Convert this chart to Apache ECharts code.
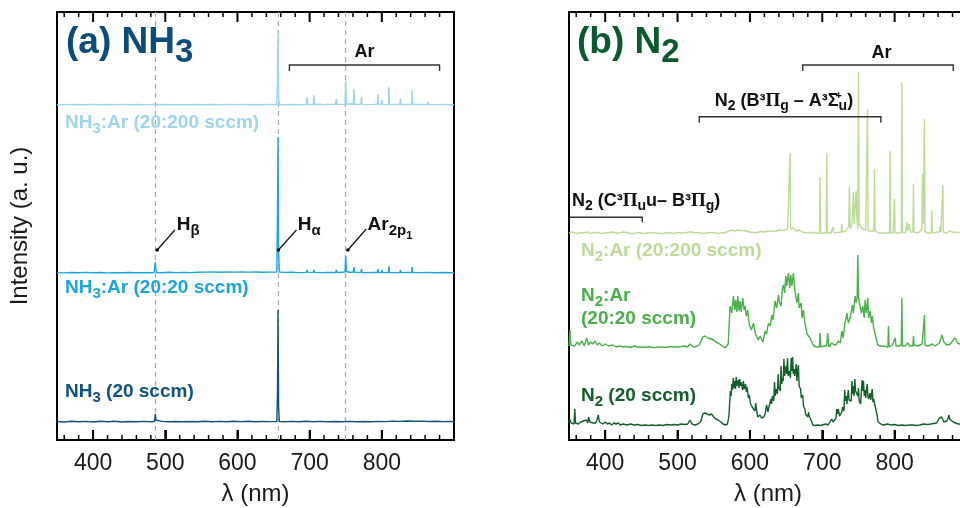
<!DOCTYPE html>
<html><head><meta charset="utf-8">
<script src="https://cdn.jsdelivr.net/npm/echarts@6/dist/echarts.min.js"></script>
<style>html,body{margin:0;padding:0;background:#fff}#c{width:960px;height:508px}</style>
</head><body><div id="c"></div>
<script>
// ---------- tick values ----------
const majorTicks = [400, 500, 600, 700, 800];
const minorTicks = [360,380,420,440,460,480,520,540,560,580,620,640,660,680,720,740,760,780,820,840,860,880];
const refLines = [486, 656, 750]; // H-beta, H-alpha, Ar 2p1

// ---------- (a) NH3 panel: [wavelength nm, intensity above baseline] ----------
const nh3Offset = 18, nh3Ar20Offset = 167, nh3Ar200Offset = 335;
const nh3Data = [[350,0.5],[360,0],[370,0.8],[380,0.2],[390,0.6],[400,0],[410,0.7],[420,0.3],[430,0.8],[440,0],[450,0.5],[460,0.2],[470,0.6],[480,0.3],[484.5,0.5],[485.5,3],[486.2,8],[487,2],[488,0.4],[495,0.6],[505,0.2],[515,0.5],[521,0.3],[522,2],[523,0.3],[535,0.5],[545,0.2],[555,0.7],[565,0.3],[575,0.6],[585,0.2],[595,0.8],[605,0.4],[615,0.7],[625,0.3],[635,0.6],[645,0.4],[654.5,0.5],[655.5,30],[656.2,112],[657,15],[658,0.6],[665,0.3],[675,0.6],[685,0.2],[695,0.7],[705,0.3],[715,0.6],[725,0.2],[735,0.5],[745,0.3],[755,0.6],[765,0.2],[775,0.5],[785,0.3],[795,0.6],[805,0.4],[815,0.9],[825,0.6],[835,1.0],[845,0.7],[855,0.9],[865,0.5],[875,0.7],[885,0.4],[895,0.6],[900,0.3]];
const nh3Ar20Data = [[350,0.4],[360,0.1],[370,0.5],[380,0.2],[390,0.6],[400,0.3],[410,0.5],[420,0.1],[430,0.4],[440,0.2],[450,0.5],[460,0.3],[470,0.4],[480,0.2],[484.5,0.5],[485.5,7],[486.2,11],[487,3],[488,0.5],[495,0.3],[505,0.8],[515,0.4],[525,0.6],[535,0.4],[545,0.7],[555,0.9],[565,1.0],[575,0.8],[585,1.0],[595,0.9],[605,1.1],[615,0.9],[625,1.0],[635,0.8],[645,0.9],[654.5,1],[655.5,60],[656.2,136],[657,20],[658,1],[665,0.6],[675,0.8],[685,0.4],[695.5,0.6],[696.5,3],[697.5,0.6],[705,0.6],[706,3],[707,0.6],[715,0.4],[725,0.6],[736,0.5],[737,3],[738,0.5],[749,1],[750,17],[751,1.5],[755,0.8],[760.5,0.8],[761.4,6],[762.3,0.8],[771,0.6],[771.8,4],[772.6,0.5],[780,0.4],[787,0.6],[793.8,0.5],[794.6,4],[795.4,0.5],[799.4,0.5],[800.2,3],[801,0.5],[805,0.4],[809,0.5],[809.8,7],[810.6,0.5],[817,0.4],[825,0.5],[825.8,3],[826.6,0.4],[834,0.5],[841.2,0.5],[842,6],[842.8,0.4],[851.4,0.4],[852.2,1.5],[853,0.4],[865,0.5],[875,0.3],[885,0.5],[895,0.2],[900,0.4]];
const nh3Ar200Data = [[350,0.3],[360,0.6],[370,0.2],[380,0.5],[390,0.3],[400,0.6],[410,0.2],[420,0.5],[430,0.3],[440,0.6],[450,0.3],[460,0.5],[470,0.2],[480,0.4],[486,1.0],[490,0.3],[500,0.5],[510,0.3],[521,0.4],[522,1.2],[523,0.4],[535,0.3],[545,0.5],[555,0.3],[565,0.5],[575,0.3],[585,0.6],[595,0.4],[605,0.5],[615,0.3],[625,0.5],[635,0.3],[645,0.5],[654.5,0.4],[655.5,30],[656.2,75],[657,8],[658,0.5],[665,0.3],[675,0.5],[685,0.3],[695.5,0.5],[696.5,8],[697.5,0.5],[705,0.4],[706,10],[707,0.5],[715,0.8],[720,0.4],[725,0.6],[725.8,2.5],[726.6,0.6],[736,0.8],[737,6],[738,0.6],[749,0.8],[750,24],[751,0.8],[755,1.2],[756,2],[757,0.8],[760.5,0.8],[761.4,16],[762.3,0.8],[766,0.6],[771,0.8],[771.8,8],[772.6,0.6],[780,0.4],[787,0.6],[793.8,0.8],[794.6,11],[795.4,0.8],[799.4,0.8],[800.2,5],[801,0.6],[805,0.4],[809,0.6],[809.8,18],[810.6,0.6],[817,0.5],[825,0.6],[825.8,7],[826.6,0.5],[834,0.5],[841.2,0.6],[842,15],[842.8,0.5],[851.4,0.5],[852.2,2],[853,0.5],[863,0.5],[864,3],[865,0.5],[875,0.4],[885,0.6],[895,0.3],[900,0.4]];

// ---------- (b) N2 panel ----------
const n2Offset = 14, n2Ar20Offset = 92, n2Ar200Offset = 206;
const n2Data = [[350,3],[351,7],[353,3],[355,4],[357,2],[358,17],[359,3],[361,5],[363,2],[366,4],[368,2],[370,5],[372,3],[374,6],[376,3],[377,9],[379,4],[381,6],[383,3],[385,5],[387,3],[389,7],[390.5,11],[392,4],[394,5],[397,2],[400,4],[403,2],[406,3],[409,1],[412,3],[415,2],[418,3],[421,1],[425,2],[430,1],[435,2],[440,1],[445,1.5],[450,0.5],[455,1],[460,0.5],[465,1],[470,0.5],[475,1],[480,0.5],[485,1.5],[490,1],[495,1.5],[500,1],[505,2],[510,1.5],[514,2],[517,6],[520,2],[524,1],[528,2],[532,4],[535,12],[538,13],[541,12],[544,11],[547,12],[550,9],[553,7],[556,6],[560,4],[563,2],[566,1],[569,2],[571,10],[573,35],[574,30],[575,42],[576,36],[577,48],[578,38],[579,45],[580,37],[581,49],[582,40],[584,46],[585,38],[586,47],[587,40],[588,44],[590,36],[591,45],[592,37],[594,42],[595,34],[596,39],[598,28],[599,31],[601,22],[602,24],[604,18],[605,20],[607,15],[608,23],[610,12],[611,9],[613,10],[614,11],[616,8],[617,10],[619,9],[621,12],[622,10],[623,21],[625,14],[626,18],[628,17],[629,27],[630,22],[631,30],[633,25],[634,44],[635,30],[636,37],[638,32],[639,52],[640,38],[641,40],[642,35],[643,60],[644,42],[645,48],[646,45],[647,67],[648,50],[650,60],[651,52],[652,68],[653,50],[655,55],[656,48],[657,68],[658,55],[659,69],[660,52],[661,57],[662,50],[664,62],[665,45],[667,61],[668,40],[670,37],[671,28],[673,31],[674,20],[676,17],[677,12],[679,11],[680,9],[681,14],[682,10],[684,8],[685,5],[687,1],[690,0.5],[694,1],[698,0.5],[702,1.5],[705,2],[708,1],[710,2],[713,7],[715,4],[717,3],[719,8],[720,17],[721,12],[722,17],[724,10],[725,11],[727,14],[728,19],[730,15],[731,36],[732,25],[733,30],[734,22],[736,36],[737,26],[739,27],[740,25],[741,45],[742,32],[743,40],[744,30],[745,47],[746,35],[748,37],[749,30],[750,38],[751,25],[752,27],[753,22],[755,46],[756,35],[757,45],[758,30],[759,36],[760,28],[762,42],[763,30],[764,27],[765,25],[766,33],[767,26],[769,37],[770,24],[771,27],[773,20],[774,22],[776,10],[777,4],[779,2],[782,1.5],[785,1],[790,2],[795,1],[800,1.5],[805,0.5],[810,1],[815,0.5],[820,1],[825,1],[830,0.5],[835,1],[840,2],[845,1.5],[850,2],[854,2.5],[858,3],[860,5],[862,8],[863,6],[865,9],[866,7],[868,4],[870,3],[872,5],[874,8],[875,11],[876,7],[878,6],[881,4],[884,3],[888,2],[892,2],[896,1.5],[900,1]];
const n2Ar20Data = [[350,2],[351.4,18],[352.5,3],[355,5],[358,2],[361,6],[364,3],[368,7],[371,2],[374.5,10],[377,3],[380,6],[383,4],[386,7],[389,3],[392,5],[396,2],[400,4],[405,2],[410,3],[415,1],[420,2],[425,1],[430,1.5],[435,0.5],[440,2],[445,1],[450,1],[455,0.5],[460,1.5],[465,0.5],[470,0.5],[475,1],[480,1],[485,0.5],[490,1.5],[495,1],[500,1],[505,1.5],[510,2],[514,1],[517,4],[522,1],[526,1.5],[530,3],[535,11],[538,12],[542,10],[547,9],[550,8],[553,6],[556,5],[560,3],[566,0],[570,4],[572.6,42],[575,35],[577.2,52],[579,38],[580.4,48],[582,36],[583.2,52],[585,37],[586.4,47],[588,36],[590.1,50],[592,38],[593.3,42],[595,32],[597,38],[599,24],[600.2,23],[602,18],[603.4,20],[605,25],[607.2,15],[609,14],[611.7,8],[614,12],[616.4,10],[618,6],[621,17],[623,14],[625.6,25],[628,22],[630.2,33],[632,28],[634.8,47],[637,40],[639.4,53],[641,45],[643.1,42],[645,60],[646.3,63],[648,55],[649.6,72],[651,62],[653.2,75],[655,60],[656.5,73],[658,62],[660.1,75],[662,58],[663.4,60],[665,45],[667,55],[668,40],[670.7,45],[672,30],[673.9,38],[676,25],[677.2,23],[679,14],[680.9,12],[683,10],[685.5,8],[688,2],[690.1,2],[693,1],[696,1],[697,15],[698,1],[702,2],[706,2],[707.5,15],[709,1],[713,5],[717,3],[720,4],[722,7],[725,5],[727,17],[729,10],[731,24],[733,30],[734,35],[736,25],[738.5,30],[740,28],[741.7,43],[743,35],[745.4,52],[747,45],[748.2,50],[749.1,93],[750.2,50],[752.3,48],[754,35],[756,42],[758,30],[759.2,48],[761,35],[762.9,50],[764,30],[766.2,37],[768,25],[769.3,32],[771,20],[773.1,18],[775,8],[776.8,3],[780,2],[785,2],[790.8,1],[791.5,22],[792.3,1],[797,3],[800.7,10],[802,2],[806,2],[809.2,3],[810,50],[810.8,2],[815,2],[818,5],[821,2],[825.3,2],[826,12],[826.8,3],[832,2],[838,4],[840.5,3],[841.2,33],[842,3],[846,2],[852,4],[856,2],[862,5],[865.3,13],[868,6],[872,3],[877,4],[880,7],[883.7,10],[887,5],[890,4],[895,3],[900,2]];
const n2Ar200Data = [[350,1],[355,2],[360,0.5],[365,1.5],[370,1],[375,2],[380,0.5],[385,1.5],[390,1.5],[395,0.5],[400,1],[405,1.5],[410,2],[415,1],[420,1],[425,2],[430,1.5],[435,0.5],[440,0.5],[445,1.5],[450,1],[455,0.5],[460,1.5],[465,1],[470,1],[475,0.5],[480,0.5],[485,1.5],[490,1],[495,0.5],[500,1.5],[505,1],[510,1],[515,2],[520,2],[525,1],[530,1.5],[535,0.5],[540,1],[545,1.5],[550,1.5],[555,0.5],[560,1],[565,1.5],[570,2.5],[575,4],[578,3],[580,5],[583,4],[585,4.5],[588,3.5],[590,4],[595,3],[600,2],[605,1.5],[610,1.5],[615,2.5],[620,2],[625,3],[630,3],[635,2.5],[640,4],[643,3.5],[645,5],[648,4],[650,6],[652,5],[654.7,4],[655.5,81],[656.3,5],[658,4],[660,6],[662,4],[664,3],[666,5],[668,4],[670,2],[672,2],[676,1.5],[680,1],[685,1.5],[690,1.5],[693,0.5],[696.2,1],[697,57],[697.8,1],[702,1],[705.5,1],[706.3,81],[707.1,1],[712,1],[714.3,1],[715,7],[715.7,1],[720,1.5],[722,2],[726.3,2],[727,10],[727.7,2],[733,3],[735,4],[736.5,8],[737.6,48],[738.6,5],[740,6],[741,10],[742.3,8],[743.1,42],[744,10],[745.5,12],[746.8,43],[747.8,15],[749.2,5],[750,162],[750.8,10],[753,8],[756,5],[760,4],[761.7,4],[762.5,125],[763.3,3],[768,3],[771.3,3],[772.1,65],[772.9,3],[778,1],[785,1],[790,1],[793,1],[793.8,83],[794.6,1],[798,1],[799,1],[799.8,35],[800.6,1],[805,1],[809.2,1],[810,152],[810.8,2],[815,1],[817,12],[818,3],[820,10],[822,2],[825.2,2],[826,50],[826.8,2],[831,1],[834,2],[837.7,5],[838.5,60],[839.5,10],[840.4,10],[841.2,115],[842,2],[846,1],[850.6,1],[851.4,23],[852.2,1],[858,2],[862,2],[863,8],[864,2],[865.8,2],[866.6,49],[867.4,2],[872,1],[876,3],[880,2],[885,1.5],[890,1.5],[895,1],[900,1]];

const FONT = '"Liberation Sans", Arial, Helvetica, sans-serif';
const colors = {
  nh3Title: '#0c4c7a', nh3: '#0f5282', nh3Ar20: '#1ca5dd', nh3Ar200: '#9fd4ea',
  n2Title: '#0b5a2e', n2: '#145e2b', n2Ar20: '#4caf4c', n2Ar200: '#bddb98'
};
const Y_MAX = 428;

const chart = echarts.init(document.getElementById('c'), null, {renderer: 'canvas'});

function xAxis(gridIndex) {
  return {type: 'value', gridIndex, min: 350, max: 900, position: 'bottom', splitLine: {show: false},
    axisLine: {show: false, onZero: false},
    axisTick: {show: true, inside: true, length: 10, customValues: majorTicks, lineStyle: {color: '#000', width: 2}},
    axisLabel: {show: true, customValues: majorTicks, fontSize: 23, fontFamily: FONT, color: '#1a1a1a', margin: 12},
    name: 'λ (nm)', nameLocation: 'middle', nameGap: 42,
    nameTextStyle: {fontSize: 24, fontFamily: FONT, color: '#1a1a1a'}};
}

function shift(arr, off) { return arr.map(p => [p[0], p[1] + off]); }
function lineSeries(name, xi, yi, data, color, extra) {
  return Object.assign({name, type: 'line', xAxisIndex: xi, yAxisIndex: yi, data, showSymbol: false,
    symbol: 'none', lineStyle: {color, width: 1.4}, animation: false, silent: true, z: 3}, extra || {});
}

const option = {
  animation: false,
  backgroundColor: '#fff',
  grid: [
    {left: 57, top: 12, width: 397, height: 428, show: true, backgroundColor: 'transparent', borderColor: '#000', borderWidth: 2, containLabel: false, outerBoundsMode: 'none'},
    {left: 569, top: 12, width: 398, height: 428, show: true, backgroundColor: 'transparent', borderColor: '#000', borderWidth: 2, containLabel: false, outerBoundsMode: 'none'}
  ],
  xAxis: [xAxis(0), xAxis(1)],
  yAxis: [
    {type: 'value', gridIndex: 0, min: 0, max: Y_MAX, axisLine: {show: false}, axisTick: {show: false},
     axisLabel: {show: false}, splitLine: {show: false},
     name: 'Intensity (a. u.)', nameLocation: 'middle', nameGap: 25, nameRotate: 90,
     nameTextStyle: {fontSize: 24, fontFamily: FONT, color: '#1a1a1a'}},
    {type: 'value', gridIndex: 1, min: 0, max: Y_MAX, axisLine: {show: false}, axisTick: {show: false},
     axisLabel: {show: false}, splitLine: {show: false}}
  ],
  series: [
    lineSeries('NH3 (20 sccm)', 0, 0, shift(nh3Data, nh3Offset), colors.nh3, {
      markLine: {silent: true, symbol: ['none', 'none'], label: {show: false}, animation: false,
        lineStyle: {type: [5, 4], color: '#aaaaaa', width: 1.2}, z: 1,
        data: refLines.map(v => ({xAxis: v}))}
    }),
    lineSeries('NH3:Ar (20:20 sccm)', 0, 0, shift(nh3Ar20Data, nh3Ar20Offset), colors.nh3Ar20),
    lineSeries('NH3:Ar (20:200 sccm)', 0, 0, shift(nh3Ar200Data, nh3Ar200Offset), colors.nh3Ar200),
    lineSeries('N2 (20 sccm)', 1, 1, shift(n2Data, n2Offset), colors.n2),
    lineSeries('N2:Ar (20:20 sccm)', 1, 1, shift(n2Ar20Data, n2Ar20Offset), colors.n2Ar20),
    lineSeries('N2:Ar (20:200 sccm)', 1, 1, shift(n2Ar200Data, n2Ar200Offset), colors.n2Ar200)
  ]
};
chart.setOption(option);

// ---------- annotations ----------
const L = {xAxisIndex: 0, yAxisIndex: 0};
const R = {xAxisIndex: 1, yAxisIndex: 1};
function P(f, x, y) { return chart.convertToPixel(f, [x, y]); }

function richFor(color, size) {
  const t = (s, w, extra) => Object.assign({fontSize: s, fontWeight: w || 'bold', fontFamily: FONT, fill: color}, extra || {});
  return {
    s: t(Math.round(size * 0.8), 'bold', {padding: [Math.round(size * 0.6), 0, 0, 0]}),
    ss: t(Math.round(size * 0.58), 'bold', {padding: [Math.round(size * 1.15), 0, 0, 0]}),
    pi: t(Math.round(size * 1.05), 'bold', {fontFamily: '"Liberation Serif", "DejaVu Serif", serif'}),
    pl: t(Math.round(size * 0.62), 'bold', {padding: [0, 0, Math.round(size * 0.6), 0], width: 0}),
    T: t(Math.round(size * 0.88), 'bold', {padding: [Math.round(size * 0.5), 0, 0, 0]})
  };
}
function txt(x, y, text, color, size, align, weight) {
  return {type: 'text', x, y, silent: true, z: 20,
    style: {text, fill: color, fontFamily: FONT, fontWeight: weight || 'bold', fontSize: size,
      align: align || 'left', verticalAlign: 'middle', rich: richFor(color, size)}};
}
function bracket(f, x1, x2, y, drop, leftTick) {
  const a = P(f, x1, y), b = P(f, x2, y);
  const pts = [];
  if (leftTick !== false) pts.push([a[0], a[1] + drop]);
  pts.push([a[0], a[1]], [b[0], b[1]], [b[0], b[1] + drop]);
  return {type: 'polyline', silent: true, z: 20, shape: {points: pts},
    style: {stroke: '#333', lineWidth: 1.4, fill: null}};
}
function leader(f, x1, y1, x2, y2) {
  const a = P(f, x1, y1), b = P(f, x2, y2);
  return [
    {type: 'line', silent: true, z: 20, shape: {x1: a[0], y1: a[1], x2: b[0], y2: b[1]}, style: {stroke: '#111', lineWidth: 1.2}},
    {type: 'circle', silent: true, z: 21, shape: {cx: a[0], cy: a[1], r: 1.8}, style: {fill: '#111'}}
  ];
}
// inward tick marks on bottom and top edges (filled rectangles), positioned through the axis scale
function ticks(f) {
  const out = [];
  const add = (v, len, w) => {
    const b = P(f, v, 0), t = P(f, v, Y_MAX);
    out.push({type: 'rect', silent: true, z: 30, shape: {x: b[0] - w / 2, y: b[1] - len, width: w, height: len}, style: {fill: '#000'}});
    out.push({type: 'rect', silent: true, z: 30, shape: {x: t[0] - w / 2, y: t[1], width: w, height: len}, style: {fill: '#000'}});
  };
  majorTicks.forEach(v => add(v, 10, 2));
  minorTicks.forEach(v => add(v, 5, 1.5));
  return out;
}

const g = [];
// panel (a)
g.push(txt(66, 43, '(a) NH{T|3}', colors.nh3Title, 37));
g.push(txt(65, 123, 'NH{s|3}:Ar (20:200 sccm)', colors.nh3Ar200, 19));
g.push(txt(65, 288, 'NH{s|3}:Ar (20:20 sccm)', colors.nh3Ar20, 19));
g.push(txt(65, 392, 'NH{s|3} (20 sccm)', colors.nh3, 19));
g.push(bracket(L, 672, 880, 375, 6));
let p = P(L, 776, 388); g.push(txt(p[0], p[1], 'Ar', '#111', 18, 'center'));
g.push(...leader(L, 488.8, 190, 513.3, 210));
p = P(L, 515.8, 215); g.push(txt(p[0], p[1], 'H{s|β}', '#111', 19));
g.push(...leader(L, 656.8, 190, 681.7, 210));
p = P(L, 683.5, 215); g.push(txt(p[0], p[1], 'H{s|α}', '#111', 19));
g.push(...leader(L, 753, 190, 778.5, 211));
p = P(L, 780.3, 215); g.push(txt(p[0], p[1], 'Ar{s|2p}{ss|1}', '#111', 19));

// panel (b)
g.push(txt(577, 43, '(b) N{T|2}', colors.n2Title, 37));
g.push(txt(581, 251, 'N{s|2}:Ar (20:200 sccm)', colors.n2Ar200, 19));
g.push(txt(581, 296, 'N{s|2}:Ar', colors.n2Ar20, 19));
g.push(txt(581, 319, '(20:20 sccm)', colors.n2Ar20, 19));
g.push(txt(581, 396, 'N{s|2} (20 sccm)', colors.n2, 19));
g.push(bracket(R, 673, 881, 375, 6));
p = P(R, 782, 387); g.push(txt(p[0], p[1], 'Ar', '#111', 18, 'center'));
g.push(bracket(R, 530, 781, 323.3, 6));
p = P(R, 647, 339); g.push(txt(p[0], p[1], 'N{s|2} (B³{pi|Π}{s|g} – A³Σ{pl|+}{s|u})', '#111', 18, 'center'));
g.push(bracket(R, 350.5, 451.3, 222.7, 5, false));
p = P(R, 354, 239); g.push(txt(p[0], p[1], 'N{s|2} (C³{pi|Π}{s|u}u– B³{pi|Π}{s|g})', '#111', 18, 'left'));
g.push(...ticks(L), ...ticks(R));

chart.setOption({graphic: {elements: g}});
</script>
</body></html>
